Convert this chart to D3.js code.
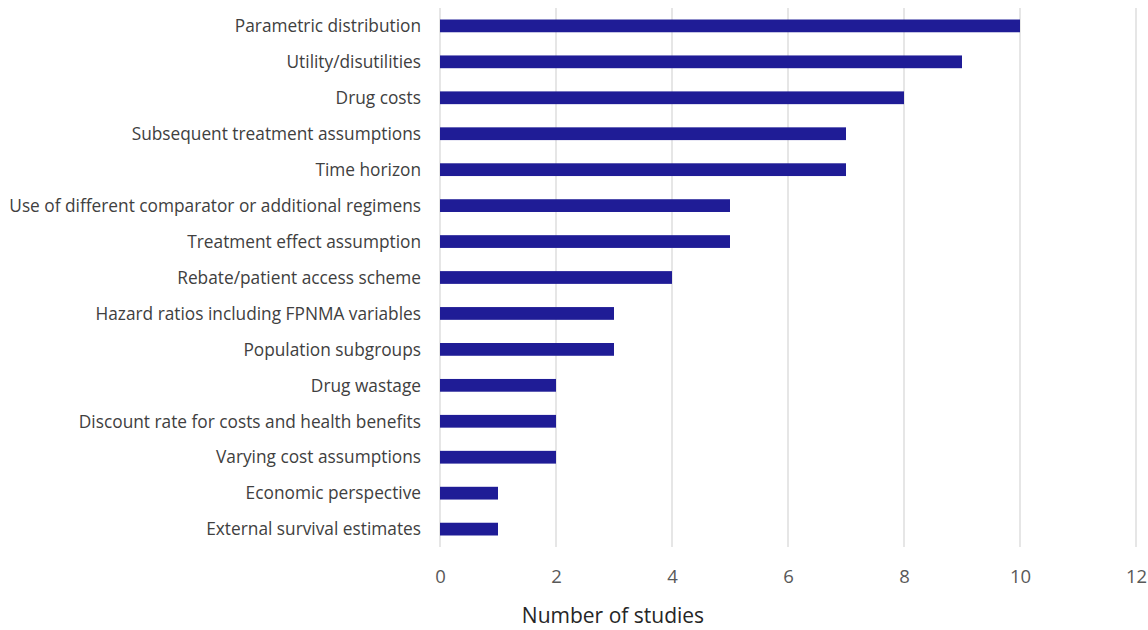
<!DOCTYPE html>
<html>
<head>
<meta charset="utf-8">
<script src="https://cdn.jsdelivr.net/npm/d3@7"></script>
<style>
  html, body { margin: 0; padding: 0; background: #fff; }
  svg { display: block; font-family: "Open Sans", "Noto Sans", sans-serif; }
</style>
</head>
<body>
<svg id="chart" width="1148" height="630"></svg>
<script>
// Sensitivity analysis parameters and the number of studies varying each
const categories = [
  "Parametric distribution",
  "Utility/disutilities",
  "Drug costs",
  "Subsequent treatment assumptions",
  "Time horizon",
  "Use of different comparator or additional regimens",
  "Treatment effect assumption",
  "Rebate/patient access scheme",
  "Hazard ratios including FPNMA variables",
  "Population subgroups ",
  "Drug wastage",
  "Discount rate for costs and health benefits",
  "Varying cost assumptions",
  "Economic perspective",
  "External survival estimates"
];
const studies = [10, 9, 8, 7, 7, 5, 5, 4, 3, 3, 2, 2, 2, 1, 1];
const xTicks = [0, 2, 4, 6, 8, 10, 12];
const xTitle = "Number of studies";

const svg = d3.select("#chart");
const plot = { left: 440, right: 1136, top: 8, bottom: 547 };

const x = d3.scaleLinear().domain([0, 12]).range([plot.left, plot.right]);
const y = d3.scaleBand().domain(categories).range([plot.top, plot.bottom]).paddingInner(0.645).paddingOuter(0.32);

// vertical gridlines
svg.append("g")
  .selectAll("line")
  .data(xTicks)
  .join("line")
  .attr("x1", d => x(d)).attr("x2", d => x(d))
  .attr("y1", plot.top).attr("y2", plot.bottom)
  .attr("stroke", "#d9d9d9")
  .attr("stroke-width", 1.3);

// bars
svg.append("g")
  .selectAll("rect")
  .data(categories)
  .join("rect")
  .attr("x", x(0))
  .attr("y", d => y(d))
  .attr("width", (d, i) => x(studies[i]) - x(0))
  .attr("height", y.bandwidth())
  .attr("fill", "#1f1c96");

// category labels
const yAxis = d3.axisLeft(y).tickSize(0).tickPadding(19);
const gy = svg.append("g").attr("transform", `translate(${x(0)},0)`).call(yAxis);
gy.select(".domain").remove();
gy.selectAll("text")
  .attr("font-size", 17.3)
  .attr("dy", "0.36em")
  .attr("font-family", "'Open Sans', 'Noto Sans', sans-serif")
  .attr("fill", "#404040");

// x axis tick labels
const xAxis = d3.axisBottom(x).tickValues(xTicks).tickSize(0).tickPadding(23);
const gx = svg.append("g").attr("transform", `translate(0,${plot.bottom})`).call(xAxis);
gx.select(".domain").remove();
gx.selectAll("text")
  .attr("font-size", 18.5)
  .attr("font-family", "'Open Sans', 'Noto Sans', sans-serif")
  .attr("fill", "#595959");

// axis title
svg.append("text")
  .attr("x", 613)
  .attr("y", 623)
  .attr("text-anchor", "middle")
  .attr("font-size", 21)
  .attr("fill", "#262626")
  .text(xTitle);
</script>
</body>
</html>
